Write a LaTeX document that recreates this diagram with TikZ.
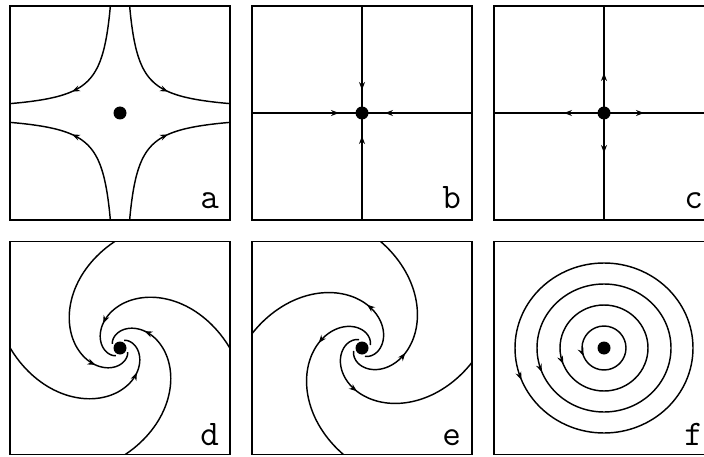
\documentclass[tikz,border=0pt]{standalone}
\usepackage{fontspec}
\usepackage{tikz}
\usetikzlibrary{arrows.meta, decorations.markings}

\tikzstyle{frame} = [line width=1.9pt]
\tikzstyle{axisline} = [line width=1.8pt]
\tikzstyle{traj} = [line width=1.45pt]
\tikzstyle{fixpt} = [circle, fill=black, inner sep=0pt, minimum size=13pt]
\tikzstyle{tag} = [anchor=base east, inner sep=0pt, font=\ttfamily\fontsize{36}{36}\selectfont]
\tikzset{tipat/.style={postaction={decorate}, decoration={markings,
  mark=at position #1 with {\arrow{Stealth[length=8pt, width=6pt]}}}}}

\begin{document}
\begin{tikzpicture}[x=1pt, y=1pt]
  \useasboundingbox (0,0) rectangle (704,456);

  % a: saddle
  \begin{scope}[shift={(120,343)}]
    \begin{scope}
      \clip (-110,-107) rectangle (110,107);
      \foreach \sx/\sy in {-1/1, 1/1, -1/-1, 1/-1}
        \draw[traj, tipat=0.6] plot[domain=-1.35:1.35, samples=60, variable=\t]
          ({\sx*32.1*exp(\t)}, {\sy*32.1*exp(-\t)});
    \end{scope}
    \draw[frame] (-110,-107) rectangle (110,107);
    \node[fixpt] (pa) at (0,0) {};
    \node[tag] (la) at (99,-95) {a};
  \end{scope}

  % b: stable node
  \begin{scope}[shift={(362,343)}]
    \draw[frame] (-110,-107) rectangle (110,107);
    \foreach \px/\py in {-110/0, 110/0, 0/-107, 0/107}
      \draw[axisline, tipat=-23pt] (\px,\py) -- (0,0);
    \node[fixpt] (pb) at (0,0) {};
    \node[tag] (lb) at (99,-95) {b};
  \end{scope}

  % c: unstable node
  \begin{scope}[shift={(604,343)}]
    \draw[frame] (-110,-107) rectangle (110,107);
    \foreach \px/\py in {-110/0, 110/0, 0/-107, 0/107}
      \draw[axisline, tipat=40pt] (0,0) -- (\px,\py);
    \node[fixpt] (pc) at (0,0) {};
    \node[tag] (lc) at (99,-95) {c};
  \end{scope}

  % d: stable spiral
  \begin{scope}[shift={(120,108)}]
    \begin{scope}
      \clip (-110,-106.5) rectangle (110,106.5);
      \foreach \k in {0,1,2,3}
        \draw[traj, tipat=0.84] plot[domain=-25:240, samples=120, variable=\u]
          ({108*exp(-0.01047*\u)*cos(91.6+90*\k+\u)}, {108*exp(-0.01047*\u)*sin(91.6+90*\k+\u)});
    \end{scope}
    \draw[frame] (-110,-106.5) rectangle (110,106.5);
    \node[fixpt] (pd) at (0,0) {};
    \node[tag] (ld) at (99,-97) {d};
  \end{scope}

  % e: unstable spiral
  \begin{scope}[shift={(362,108)}]
    \begin{scope}
      \clip (-110,-106.5) rectangle (110,106.5);
      \foreach \k in {0,1,2,3}
        \draw[traj, tipat=0.265] plot[domain=-240:25, samples=120, variable=\w]
          ({108*exp(0.01047*\w)*cos(80+90*\k+\w)}, {108*exp(0.01047*\w)*sin(80+90*\k+\w)});
    \end{scope}
    \draw[frame] (-110,-106.5) rectangle (110,106.5);
    \node[fixpt] (pe) at (0,0) {};
    \node[tag] (le) at (99,-97) {e};
  \end{scope}

  % f: centre
  \begin{scope}[shift={(604,108)}]
    \foreach \rx/\ry in {22/22, 44/43, 67/64, 89/85}
      \draw[traj, tipat=0.56] (\rx,0) arc[start angle=0, end angle=360, x radius=\rx, y radius=\ry];
    \draw[frame] (-110,-106.5) rectangle (110,106.5);
    \node[fixpt] (pf) at (0,0) {};
    \node[tag] (lf) at (99,-97) {f};
  \end{scope}
\end{tikzpicture}
\end{document}
